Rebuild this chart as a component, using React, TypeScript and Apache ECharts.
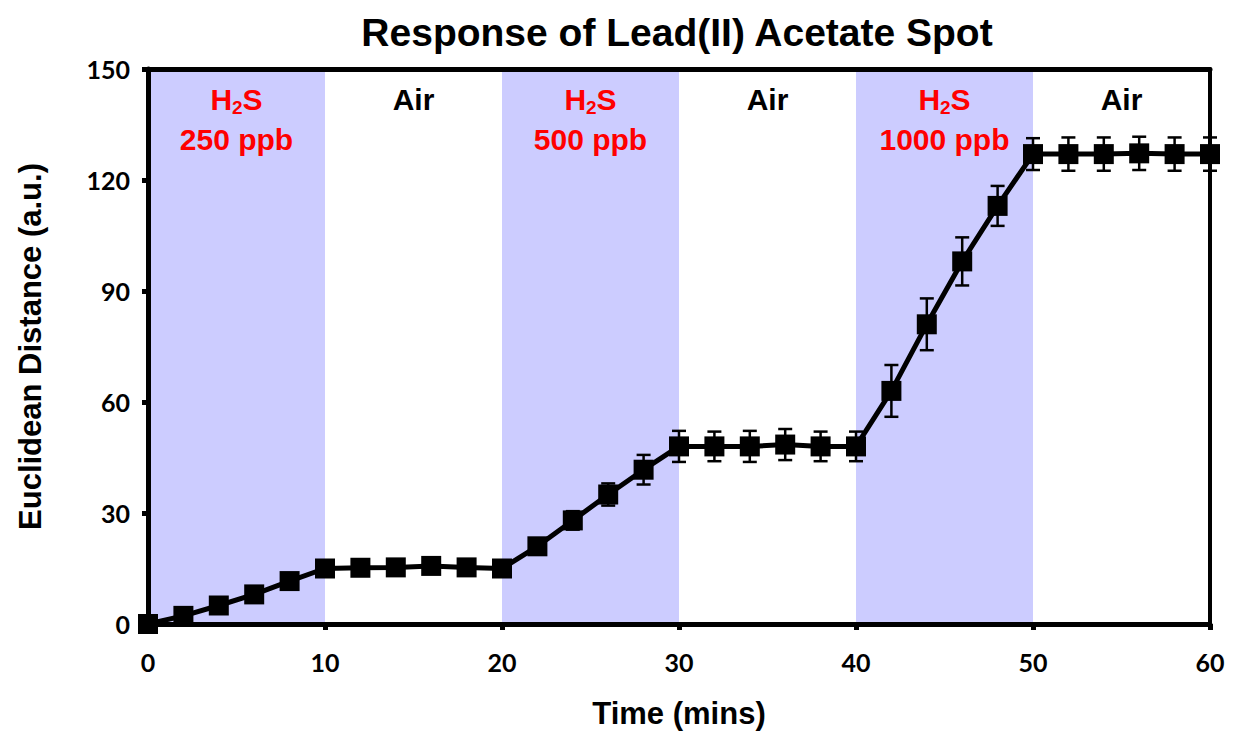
import React, { useEffect, useRef } from "react";
import * as echarts from "echarts";

const times = [0, 2, 4, 6, 8, 10, 12, 14, 16, 18, 20, 22, 24, 26, 28, 30, 32, 34, 36, 38, 40, 42, 44, 46, 48, 50, 52, 54, 56, 58, 60];
const distance = [0, 2.2, 5, 8, 11.6, 15, 15.2, 15.3, 15.7, 15.3, 15, 21, 28, 35, 41.7, 48, 48, 48, 48.5, 48, 48, 63, 81, 98, 113, 127, 127, 127, 127.2, 127, 127];
const errors = [0.8, 0.8, 0.8, 0.8, 1, 1, 1, 1, 1, 1, 1, 1.5, 2.5, 3, 4, 4.2, 4, 4.2, 4.2, 4, 4, 7, 7, 6.5, 5.4, 4.3, 4.5, 4.5, 4.5, 4.5, 4.5];

const gasPhases = [
  { start: 0, end: 10, conc: "250 ppb" },
  { start: 20, end: 30, conc: "500 ppb" },
  { start: 40, end: 50, conc: "1000 ppb" },
];
const airPhases = [
  { start: 10, end: 20 },
  { start: 30, end: 40 },
  { start: 50, end: 60 },
];

const xTicks = { min: 0, max: 60, interval: 10 };
const yTicks = { min: 0, max: 150, interval: 30 };

export default function App() {
  const ref = useRef<HTMLDivElement>(null);
  useEffect(() => {
    if (!ref.current) return;
    const chart = echarts.init(ref.current, null, { renderer: "svg" });
    const tickFont = { fontFamily: "Lato", fontWeight: "bold" as const, fontSize: 25, color: "#000" };
    const errData = times.map((t, i) => [t, distance[i] - errors[i], distance[i] + errors[i]]);
    const gasLabelRich = {
      r: { fontFamily: "Liberation Sans", fontWeight: "bold", fontSize: 30, color: "#ff0000", lineHeight: 40 },
      s: { fontFamily: "Liberation Sans", fontWeight: "bold", fontSize: 19, color: "#ff0000", lineHeight: 40, padding: [16, 0, 0, 0] },
    };
    chart.setOption({
      animation: false,
      title: {
        text: "Response of Lead(II) Acetate Spot",
        left: 672,
        textAlign: "center",
        top: 8,
        textStyle: { fontFamily: "Liberation Sans", fontWeight: "bold", fontSize: 39, color: "#000" },
      },
      grid: { left: 148, right: 23, top: 69, bottom: 107, containLabel: false },
      xAxis: [
        {
          type: "value",
          min: xTicks.min,
          max: xTicks.max,
          interval: xTicks.interval,
          z: 10,
          name: "Time (mins)",
          nameLocation: "middle",
          nameGap: 74,
          nameTextStyle: { fontFamily: "Liberation Sans", fontWeight: "bold", fontSize: 31, color: "#000" },
          axisLine: { show: true, onZero: false, lineStyle: { color: "#000", width: 5 } },
          axisTick: { show: true, length: 6, lineStyle: { color: "#000", width: 5 } },
          axisLabel: { ...tickFont, margin: 25 },
          splitLine: { show: false },
        },
        {
          type: "value",
          position: "top",
          min: xTicks.min,
          max: xTicks.max,
          z: 10,
          axisLine: { show: true, onZero: false, lineStyle: { color: "#000", width: 5 } },
          axisTick: { show: false },
          axisLabel: { show: false },
          splitLine: { show: false },
        },
      ],
      yAxis: [
        {
          type: "value",
          min: yTicks.min,
          max: yTicks.max,
          interval: yTicks.interval,
          z: 10,
          name: "Euclidean Distance (a.u.)",
          nameLocation: "middle",
          nameGap: 102,
          nameTextStyle: { fontFamily: "Liberation Sans", fontWeight: "bold", fontSize: 31, color: "#000" },
          axisLine: { show: true, onZero: false, lineStyle: { color: "#000", width: 5 } },
          axisTick: { show: true, length: 6, lineStyle: { color: "#000", width: 5 } },
          axisLabel: { ...tickFont, margin: 18 },
          splitLine: { show: false },
        },
        {
          type: "value",
          position: "right",
          min: yTicks.min,
          max: yTicks.max,
          z: 10,
          axisLine: { show: true, onZero: false, lineStyle: { color: "#000", width: 4 } },
          axisTick: { show: false },
          axisLabel: { show: false },
          splitLine: { show: false },
        },
      ],
      series: [
        {
          type: "line",
          name: "bands",
          data: [],
          markArea: {
            silent: true,
            itemStyle: { color: "#ccccff" },
            label: { position: "insideTop", distance: 10, align: "center", rich: gasLabelRich },
            data: gasPhases.map((p) => [
              {
                xAxis: p.start,
                label: { formatter: `{r|H}{s|2}{r|S}\n{r|${p.conc}}`, rich: gasLabelRich },
              },
              { xAxis: p.end },
            ]),
          },
        },
        {
          type: "line",
          name: "air",
          data: [],
          markArea: {
            silent: true,
            itemStyle: { color: "rgba(0,0,0,0)" },
            label: {
              position: "insideTop",
              distance: 10,
              formatter: "Air",
              fontFamily: "Liberation Sans",
              fontWeight: "bold",
              fontSize: 30,
              color: "#000",
              lineHeight: 40,
            },
            data: airPhases.map((p) => [{ xAxis: p.start }, { xAxis: p.end }]),
          },
        },
        {
          type: "custom",
          name: "error",
          z: 3,
          data: errData,
          encode: { x: 0, y: [1, 2] },
          renderItem: (params: any, api: any) => {
            const x = api.value(0);
            const top = api.coord([x, api.value(2)]);
            const bot = api.coord([x, api.value(1)]);
            const w = 7;
            const st = { stroke: "#000", lineWidth: 2.5 };
            return {
              type: "group",
              children: [
                { type: "line", shape: { x1: top[0], y1: top[1], x2: bot[0], y2: bot[1] }, style: st },
                { type: "line", shape: { x1: top[0] - w, y1: top[1], x2: top[0] + w, y2: top[1] }, style: st },
                { type: "line", shape: { x1: bot[0] - w, y1: bot[1], x2: bot[0] + w, y2: bot[1] }, style: st },
              ],
            };
          },
        },
        {
          type: "line",
          name: "Response",
          z: 4,
          data: times.map((t, i) => [t, distance[i]]),
          symbol: "rect",
          symbolSize: 20,
          lineStyle: { color: "#000", width: 5 },
          itemStyle: { color: "#000" },
        },
      ],
    });
    return () => chart.dispose();
  }, []);
  return <div ref={ref} style={{ width: 1233, height: 734, position: "absolute", left: 0, top: 0 }} />;
}
